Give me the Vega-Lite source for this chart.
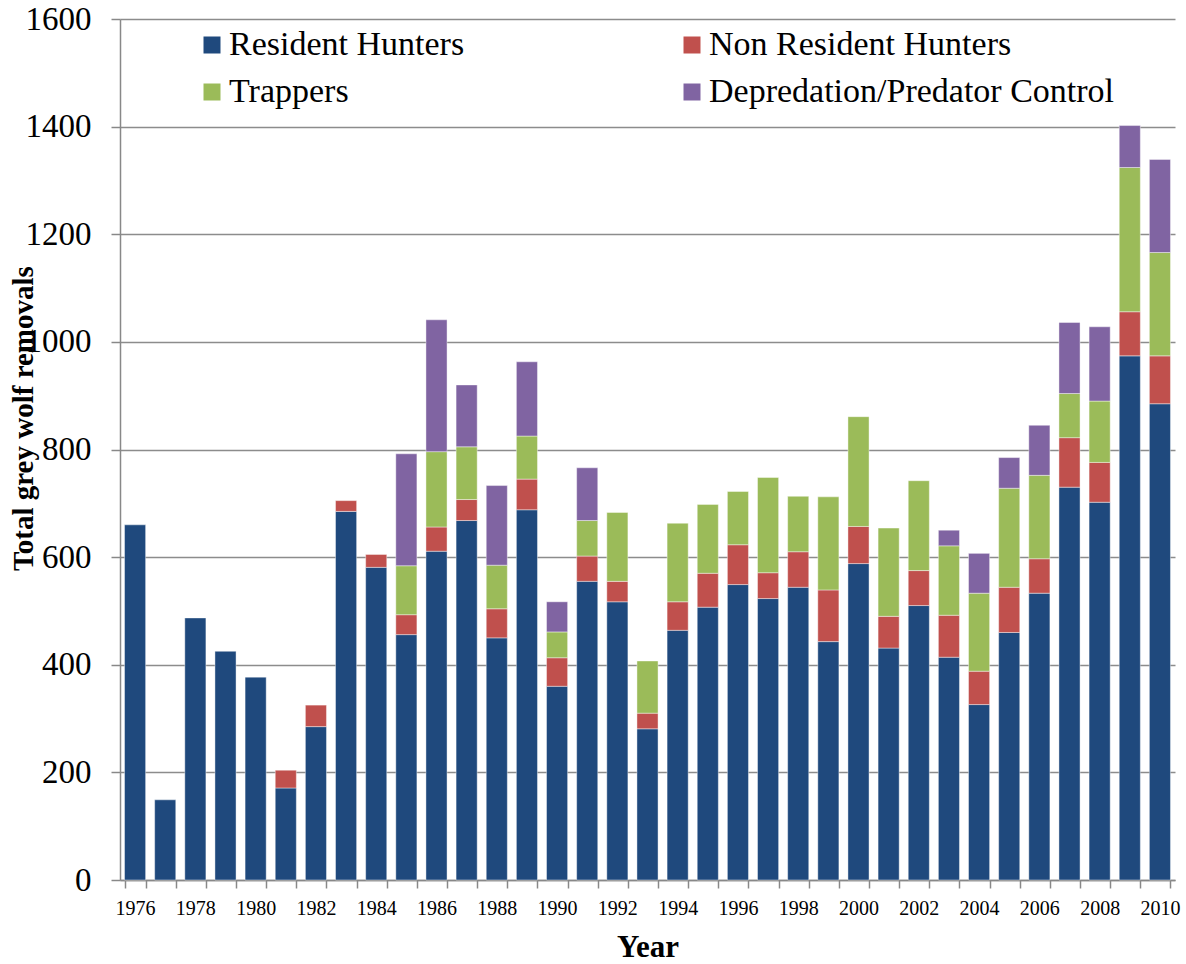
{
  "$schema": "https://vega.github.io/schema/vega-lite/v6.json",
  "width": 1055,
  "height": 861,
  "autosize": {"type": "none"},
  "padding": {"left": 120, "top": 19, "right": 11, "bottom": 84},
  "background": "#ffffff",
  "config": {
    "font": "Liberation Serif",
    "view": {"stroke": null}
  },
  "data": {
    "values": [
      {"year": 1976, "type": "Resident Hunters", "n": 660},
      {"year": 1977, "type": "Resident Hunters", "n": 149},
      {"year": 1978, "type": "Resident Hunters", "n": 487},
      {"year": 1979, "type": "Resident Hunters", "n": 425},
      {"year": 1980, "type": "Resident Hunters", "n": 377},
      {"year": 1981, "type": "Resident Hunters", "n": 171},
      {"year": 1981, "type": "Non Resident Hunters", "n": 33},
      {"year": 1982, "type": "Resident Hunters", "n": 285},
      {"year": 1982, "type": "Non Resident Hunters", "n": 40},
      {"year": 1983, "type": "Resident Hunters", "n": 685},
      {"year": 1983, "type": "Non Resident Hunters", "n": 20},
      {"year": 1984, "type": "Resident Hunters", "n": 581},
      {"year": 1984, "type": "Non Resident Hunters", "n": 24},
      {"year": 1985, "type": "Resident Hunters", "n": 456},
      {"year": 1985, "type": "Non Resident Hunters", "n": 37},
      {"year": 1985, "type": "Trappers", "n": 91},
      {"year": 1985, "type": "Depredation/Predator Control", "n": 208},
      {"year": 1986, "type": "Resident Hunters", "n": 611},
      {"year": 1986, "type": "Non Resident Hunters", "n": 45},
      {"year": 1986, "type": "Trappers", "n": 140},
      {"year": 1986, "type": "Depredation/Predator Control", "n": 245},
      {"year": 1987, "type": "Resident Hunters", "n": 668},
      {"year": 1987, "type": "Non Resident Hunters", "n": 39},
      {"year": 1987, "type": "Trappers", "n": 98},
      {"year": 1987, "type": "Depredation/Predator Control", "n": 115},
      {"year": 1988, "type": "Resident Hunters", "n": 450},
      {"year": 1988, "type": "Non Resident Hunters", "n": 54},
      {"year": 1988, "type": "Trappers", "n": 81},
      {"year": 1988, "type": "Depredation/Predator Control", "n": 148},
      {"year": 1989, "type": "Resident Hunters", "n": 688},
      {"year": 1989, "type": "Non Resident Hunters", "n": 57},
      {"year": 1989, "type": "Trappers", "n": 80},
      {"year": 1989, "type": "Depredation/Predator Control", "n": 138},
      {"year": 1990, "type": "Resident Hunters", "n": 360},
      {"year": 1990, "type": "Non Resident Hunters", "n": 53},
      {"year": 1990, "type": "Trappers", "n": 48},
      {"year": 1990, "type": "Depredation/Predator Control", "n": 56},
      {"year": 1991, "type": "Resident Hunters", "n": 555},
      {"year": 1991, "type": "Non Resident Hunters", "n": 47},
      {"year": 1991, "type": "Trappers", "n": 66},
      {"year": 1991, "type": "Depredation/Predator Control", "n": 98},
      {"year": 1992, "type": "Resident Hunters", "n": 517},
      {"year": 1992, "type": "Non Resident Hunters", "n": 38},
      {"year": 1992, "type": "Trappers", "n": 128},
      {"year": 1993, "type": "Resident Hunters", "n": 281},
      {"year": 1993, "type": "Non Resident Hunters", "n": 29},
      {"year": 1993, "type": "Trappers", "n": 97},
      {"year": 1994, "type": "Resident Hunters", "n": 464},
      {"year": 1994, "type": "Non Resident Hunters", "n": 53},
      {"year": 1994, "type": "Trappers", "n": 146},
      {"year": 1995, "type": "Resident Hunters", "n": 507},
      {"year": 1995, "type": "Non Resident Hunters", "n": 63},
      {"year": 1995, "type": "Trappers", "n": 128},
      {"year": 1996, "type": "Resident Hunters", "n": 549},
      {"year": 1996, "type": "Non Resident Hunters", "n": 74},
      {"year": 1996, "type": "Trappers", "n": 99},
      {"year": 1997, "type": "Resident Hunters", "n": 523},
      {"year": 1997, "type": "Non Resident Hunters", "n": 48},
      {"year": 1997, "type": "Trappers", "n": 177},
      {"year": 1998, "type": "Resident Hunters", "n": 544},
      {"year": 1998, "type": "Non Resident Hunters", "n": 66},
      {"year": 1998, "type": "Trappers", "n": 103},
      {"year": 1999, "type": "Resident Hunters", "n": 443},
      {"year": 1999, "type": "Non Resident Hunters", "n": 96},
      {"year": 1999, "type": "Trappers", "n": 173},
      {"year": 2000, "type": "Resident Hunters", "n": 588},
      {"year": 2000, "type": "Non Resident Hunters", "n": 69},
      {"year": 2000, "type": "Trappers", "n": 204},
      {"year": 2001, "type": "Resident Hunters", "n": 431},
      {"year": 2001, "type": "Non Resident Hunters", "n": 59},
      {"year": 2001, "type": "Trappers", "n": 164},
      {"year": 2002, "type": "Resident Hunters", "n": 510},
      {"year": 2002, "type": "Non Resident Hunters", "n": 65},
      {"year": 2002, "type": "Trappers", "n": 167},
      {"year": 2003, "type": "Resident Hunters", "n": 414},
      {"year": 2003, "type": "Non Resident Hunters", "n": 78},
      {"year": 2003, "type": "Trappers", "n": 129},
      {"year": 2003, "type": "Depredation/Predator Control", "n": 29},
      {"year": 2004, "type": "Resident Hunters", "n": 326},
      {"year": 2004, "type": "Non Resident Hunters", "n": 62},
      {"year": 2004, "type": "Trappers", "n": 145},
      {"year": 2004, "type": "Depredation/Predator Control", "n": 74},
      {"year": 2005, "type": "Resident Hunters", "n": 460},
      {"year": 2005, "type": "Non Resident Hunters", "n": 84},
      {"year": 2005, "type": "Trappers", "n": 184},
      {"year": 2005, "type": "Depredation/Predator Control", "n": 57},
      {"year": 2006, "type": "Resident Hunters", "n": 533},
      {"year": 2006, "type": "Non Resident Hunters", "n": 64},
      {"year": 2006, "type": "Trappers", "n": 155},
      {"year": 2006, "type": "Depredation/Predator Control", "n": 93},
      {"year": 2007, "type": "Resident Hunters", "n": 730},
      {"year": 2007, "type": "Non Resident Hunters", "n": 92},
      {"year": 2007, "type": "Trappers", "n": 82},
      {"year": 2007, "type": "Depredation/Predator Control", "n": 132},
      {"year": 2008, "type": "Resident Hunters", "n": 702},
      {"year": 2008, "type": "Non Resident Hunters", "n": 74},
      {"year": 2008, "type": "Trappers", "n": 114},
      {"year": 2008, "type": "Depredation/Predator Control", "n": 138},
      {"year": 2009, "type": "Resident Hunters", "n": 974},
      {"year": 2009, "type": "Non Resident Hunters", "n": 82},
      {"year": 2009, "type": "Trappers", "n": 268},
      {"year": 2009, "type": "Depredation/Predator Control", "n": 78},
      {"year": 2010, "type": "Resident Hunters", "n": 885},
      {"year": 2010, "type": "Non Resident Hunters", "n": 89},
      {"year": 2010, "type": "Trappers", "n": 192},
      {"year": 2010, "type": "Depredation/Predator Control", "n": 173}
    ]
  },
  "transform": [
    {"calculate": "indexof(['Resident Hunters', 'Non Resident Hunters', 'Trappers', 'Depredation/Predator Control'], datum.type)", "as": "stackRank"}
  ],
  "mark": {"type": "bar", "stroke": "#ffffff", "strokeWidth": 0.6, "strokeOpacity": 0.7},
  "encoding": {
    "x": {
      "field": "year",
      "type": "ordinal",
      "scale": {"paddingInner": 0.3, "paddingOuter": 0.15},
      "axis": {
        "title": "Year",
        "titleFont": "Liberation Serif",
        "titleFontSize": 31,
        "titleFontWeight": "bold",
        "titleColor": "#000000",
        "titlePadding": 14,
        "labelAngle": 0,
        "labelFontSize": 20,
        "labelColor": "#000000",
        "labelPadding": 10,
        "labelExpr": "(datum.value - 1976) % 2 == 0 ? datum.label : ''",
        "tickBand": "extent",
        "tickSize": 8,
        "tickColor": "#888888",
        "tickWidth": 1.5,
        "domainColor": "#888888",
        "domainWidth": 1.5
      }
    },
    "y": {
      "field": "n",
      "type": "quantitative",
      "aggregate": "sum",
      "stack": "zero",
      "scale": {"domain": [0, 1600], "nice": false},
      "axis": {
        "title": "Total grey wolf removals",
        "titleFontSize": 29,
        "titleFontWeight": "bold",
        "titleColor": "#000000",
        "titleX": -97,
        "titleY": 399,
        "titleBaseline": "middle",
        "titleAlign": "center",
        "values": [0, 200, 400, 600, 800, 1000, 1200, 1400, 1600],
        "format": "d",
        "labelFontSize": 33,
        "labelColor": "#000000",
        "labelPadding": 20,
        "tickSize": 9,
        "tickColor": "#888888",
        "tickWidth": 1.5,
        "domainColor": "#888888",
        "domainWidth": 1.5,
        "grid": true,
        "gridColor": "#8c8c8c",
        "gridWidth": 1.5
      }
    },
    "color": {
      "field": "type",
      "type": "nominal",
      "sort": ["Resident Hunters", "Non Resident Hunters", "Trappers", "Depredation/Predator Control"],
      "scale": {
        "domain": ["Resident Hunters", "Non Resident Hunters", "Trappers", "Depredation/Predator Control"],
        "range": ["#1f497d", "#c0504d", "#9bbb59", "#8064a2"]
      },
      "legend": {
        "title": null,
        "orient": "none",
        "direction": "horizontal",
        "legendX": 75,
        "legendY": 9,
        "padding": 0,
        "columns": 2,
        "columnPadding": 210,
        "rowPadding": 13,
        "symbolType": "square",
        "symbolSize": 289,
        "symbolStrokeWidth": 0,
        "labelFontSize": 34,
        "labelColor": "#000000",
        "labelOffset": 0,
        "labelLimit": 800
      }
    },
    "order": {"field": "stackRank", "type": "quantitative", "sort": "ascending"}
  }
}
